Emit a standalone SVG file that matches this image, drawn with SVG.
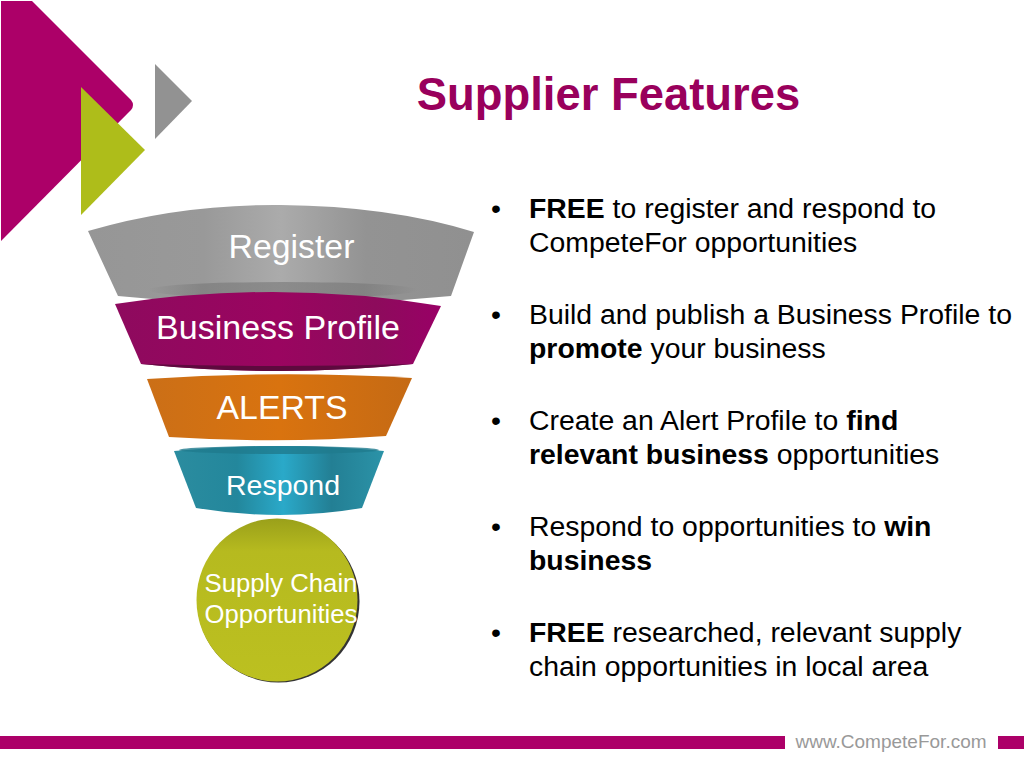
<svg xmlns="http://www.w3.org/2000/svg" width="1024" height="768" viewBox="0 0 1024 768">
<style>
text{font-family:"Liberation Sans",Arial,sans-serif}
.b{font-size:28.400px;fill:#000}
.l{fill:#fff;text-anchor:middle}
.bold{font-weight:700}
</style>
<defs>
<linearGradient id="g" x1="0" x2="1" y1="0" y2="0"><stop offset="0" stop-color="#969696"/><stop offset=".3" stop-color="#999"/><stop offset=".5" stop-color="#ababab"/><stop offset=".72" stop-color="#939393"/><stop offset="1" stop-color="#909090"/></linearGradient>
<linearGradient id="p" x1="0" x2="1" y1="0" y2="0"><stop offset="0" stop-color="#8e0a5e"/><stop offset=".5" stop-color="#9a0560"/><stop offset=".8" stop-color="#8d0b5c"/><stop offset="1" stop-color="#990066"/></linearGradient>
<linearGradient id="o" x1="0" x2="1" y1="0" y2="0"><stop offset="0" stop-color="#cb6f17"/><stop offset=".5" stop-color="#d9730f"/><stop offset="1" stop-color="#c56a14"/></linearGradient>
<linearGradient id="t" x1="0" x2="1" y1="0" y2="0"><stop offset="0" stop-color="#2b8c9f"/><stop offset=".3" stop-color="#23879c"/><stop offset=".52" stop-color="#2aa9c9"/><stop offset=".75" stop-color="#237f94"/><stop offset="1" stop-color="#2b93a8"/></linearGradient>
<linearGradient id="y" x1="0" x2="0" y1="0" y2="1"><stop offset="0" stop-color="#9aa01a"/><stop offset=".2" stop-color="#b6ba1f"/><stop offset="1" stop-color="#bcc020"/></linearGradient>
<linearGradient id="sh" x1="0" x2="1" y1="0" y2="0"><stop offset="0" stop-color="#777" stop-opacity="0"/><stop offset=".2" stop-color="#777" stop-opacity=".6"/><stop offset=".8" stop-color="#777" stop-opacity=".6"/><stop offset="1" stop-color="#777" stop-opacity="0"/></linearGradient>
</defs>
<rect width="1024" height="768" fill="#fff"/>
<g id="decor">
<path d="M1 1H32L131 100Q135 105 131 110L1 241Z" fill="#ac0068"/>
<path d="M81 87L145 150L81 215Z" fill="#aebd1a"/>
<path d="M155 64L192 101L155 139Z" fill="#929292"/>
</g>
<text x="608.500" y="110" text-anchor="middle" font-size="45.400" class="bold" fill="#99005c">Supplier Features</text>
<g id="node-register">
<path d="M88 231Q180 204 281 205Q390 206 474 232L451 296Q281 312 118 296Z" fill="url(#g)"/>
<ellipse cx="283" cy="290" rx="135" ry="8" fill="url(#sh)"/>
<text class="l" x="291.500" y="258" font-size="33.800">Register</text>
</g>
<g id="node-business-profile">
<path d="M115 304Q280 279 441 306L413 364Q280 378 141 364Z" fill="url(#p)"/>
<path d="M141 364Q280 378 413 364Q280 368 141 364Z" fill="#5d0a3e"/>
<text class="l" x="278" y="339" font-size="34">Business Profile</text>
</g>
<g id="node-alerts">
<path d="M147 379Q280 370 412 378L386 436Q280 444 169 437Z" fill="url(#o)"/>
<text class="l" x="282" y="419" font-size="33.800">ALERTS</text>
</g>
<g id="node-respond">
<path d="M174 451Q280 441 384 451L362 508Q280 522 196 508Z" fill="url(#t)"/>
<ellipse cx="279" cy="450" rx="100" ry="4" fill="#1f7a8d" opacity=".8"/>
<text class="l" x="283" y="495" font-size="28.500">Respond</text>
</g>
<g id="node-supply-chain">
<circle cx="278.500" cy="601.500" r="81" fill="#333"/>
<ellipse cx="277" cy="600" rx="80.500" ry="81.500" fill="url(#y)"/>
<text class="l" x="281" y="592" font-size="25.700">Supply Chain</text>
<text class="l" x="281" y="623" font-size="25.700">Opportunities</text>
</g>
<g id="bullets">
<text class="b" x="491" y="218">•</text>
<text class="b" x="529" y="218"><tspan class="bold">FREE</tspan> to register and respond to</text>
<text class="b" x="529" y="252">CompeteFor opportunities</text>
<text class="b" x="491" y="324">•</text>
<text class="b" x="529" y="324">Build and publish a Business Profile to</text>
<text class="b" x="529" y="358"><tspan class="bold">promote</tspan> your business</text>
<text class="b" x="491" y="430">•</text>
<text class="b" x="529" y="430">Create an Alert Profile to <tspan class="bold">find</tspan></text>
<text class="b" x="529" y="464"><tspan class="bold">relevant business</tspan> opportunities</text>
<text class="b" x="491" y="536">•</text>
<text class="b" x="529" y="536">Respond to opportunities to <tspan class="bold">win</tspan></text>
<text class="b" x="529" y="570" font-weight="700">business</text>
<text class="b" x="491" y="642">•</text>
<text class="b" x="529" y="642"><tspan class="bold">FREE</tspan> researched, relevant supply</text>
<text class="b" x="529" y="676">chain opportunities in local area</text>
</g>
<g id="footer">
<rect x="0" y="736" width="785" height="13" fill="#ac0068"/>
<rect x="998" y="736" width="26" height="13" fill="#ac0068"/>
<text x="891" y="748" text-anchor="middle" font-size="19" fill="#999">www.CompeteFor.com</text>
</g>
</svg>
